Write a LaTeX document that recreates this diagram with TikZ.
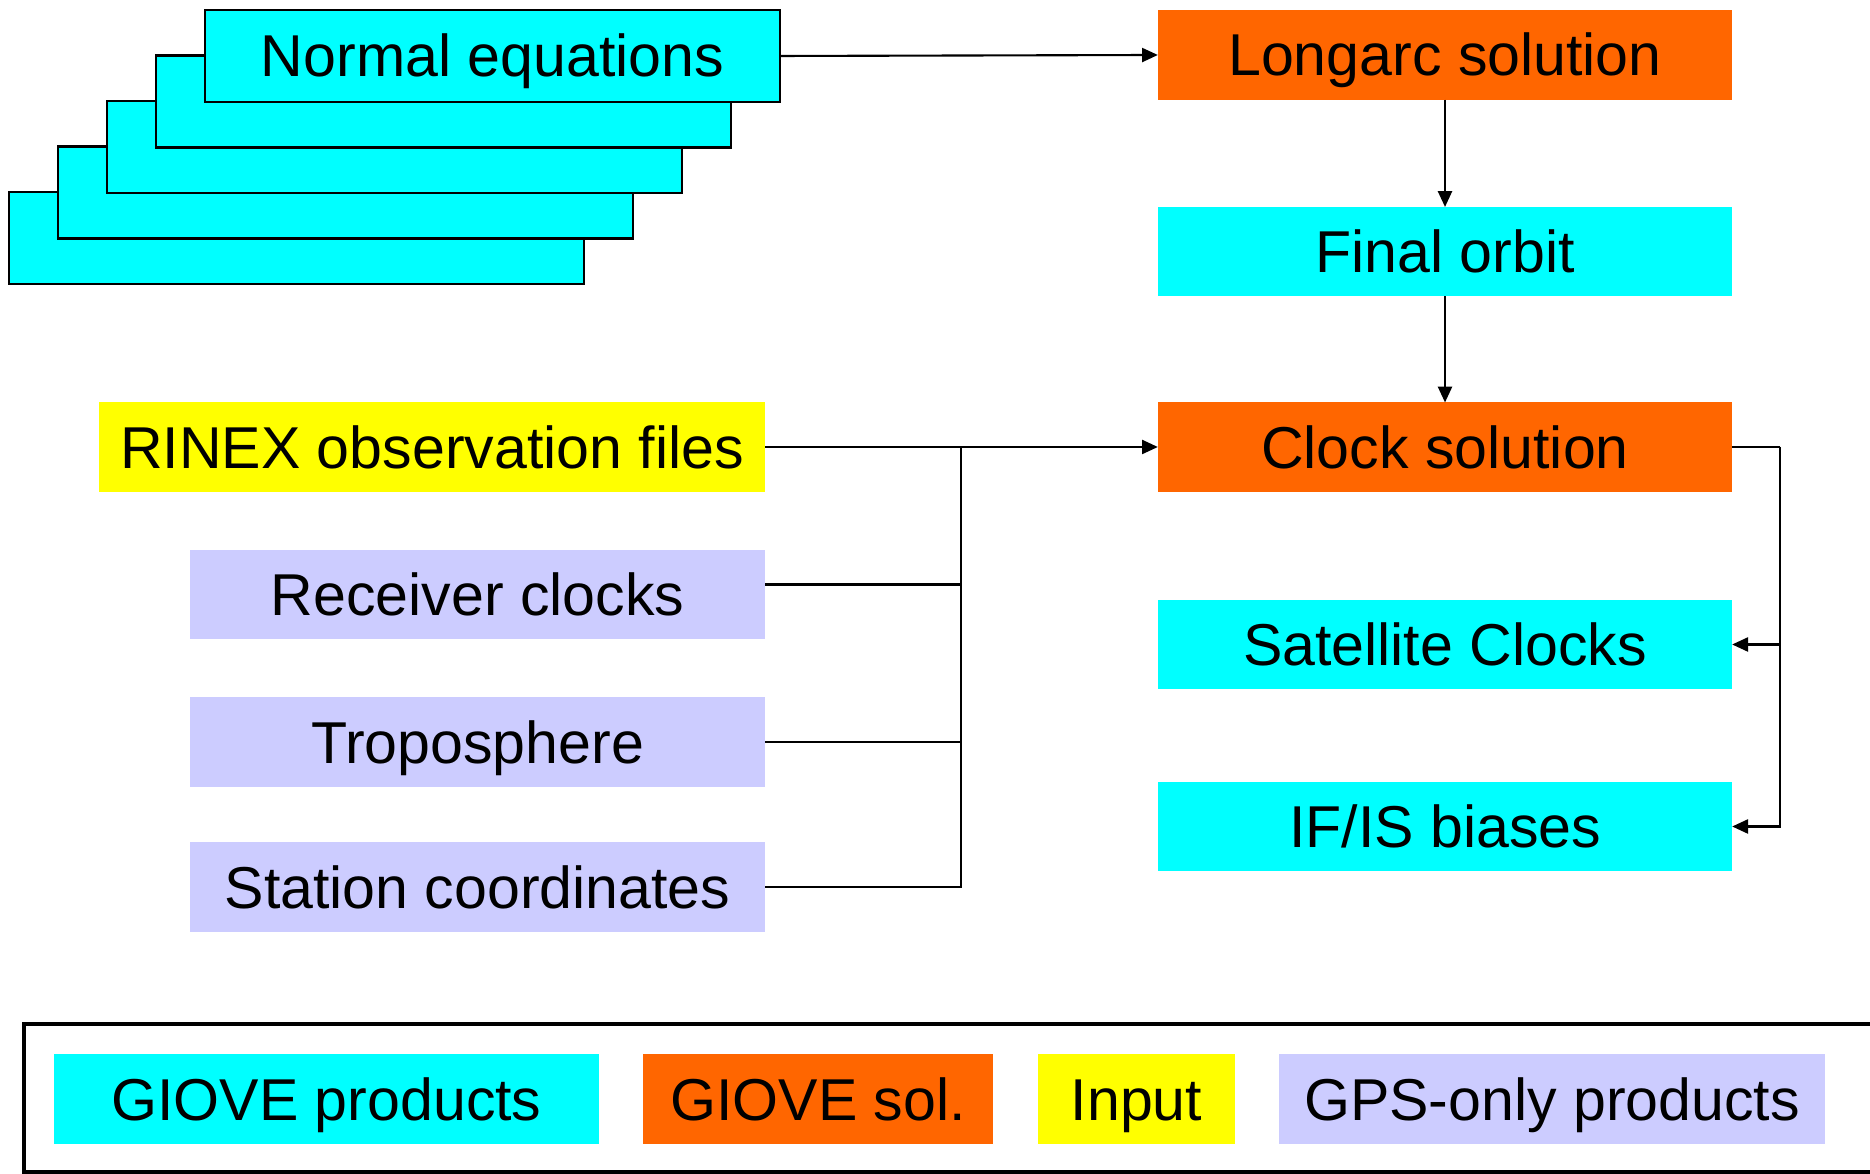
\documentclass[tikz,border=0pt]{standalone}
\usepackage{fontspec}
\setmainfont{Liberation Sans}
\usetikzlibrary{arrows.meta,positioning}
\definecolor{gioveprod}{HTML}{00FFFF}
\definecolor{giovesol}{HTML}{FF6600}
\definecolor{inputcol}{HTML}{FFFF00}
\definecolor{gpsprod}{HTML}{CCCCFF}

\begin{document}
\begin{tikzpicture}[
  x=0.01cm, y=-0.01cm,
  every node/.style={font=\fontsize{16.8}{20}\selectfont},
  box/.style={inner sep=0pt, outer sep=0pt, minimum width=5.74cm, minimum height=0.89cm,
              text height=0.42cm, text depth=0pt},
  prod/.style={box, fill=gioveprod},
  sol/.style={box, fill=giovesol},
  inp/.style={box, fill=inputcol},
  gps/.style={box, fill=gpsprod},
  stack/.style={prod, draw, line width=0.6pt, minimum width=5.75cm, minimum height=0.92cm},
  line/.style={line width=0.6pt},
  arr/.style={line, -{Triangle[length=4.5pt, width=4pt]}},
]
\useasboundingbox (0,0) rectangle (1870,1174);

% Normal equations (stacked)
\foreach \i in {4,3,2,1}
  \node[stack] (ne\i) at ({492.5-49*\i}, {56+45.5*\i}) {};
\node[stack] (ne) at (492.5, 56) {Normal equations};

% Right column
\node[sol]  (lo)   at (1445, 55)    {Longarc solution};
\node[prod] (fo)   at (1445, 251.5) {Final orbit};
\node[sol]  (clk)  at (1445, 447)   {Clock solution};
\node[prod] (sat)  at (1445, 644.5) {Satellite Clocks};
\node[prod] (ifis) at (1445, 826.5) {IF/IS biases};

% Left column
\node[inp, minimum width=6.66cm] (rinex) at (432, 447) {RINEX observation files};
\node[gps, minimum width=5.75cm] (rc)    at (477.5, 594.5) {Receiver clocks};
\node[gps, minimum width=5.75cm] (trop)  at (477.5, 742)   {Troposphere};
\node[gps, minimum width=5.75cm] (stat)  at (477.5, 887)   {Station coordinates};

% Arrows
\coordinate (bus)  at (961, 447);
\coordinate (rbus) at (1780, 447);
\draw[arr] (ne.east) -- (lo.west);
\draw[arr] (lo) -- (fo);
\draw[arr] (fo) -- (clk);
\draw[arr] (rinex.east) -- (clk.west);
\draw[line] ([yshift=0.1cm]rc.east) -| (bus);
\draw[line] (trop.east) -| (bus);
\draw[line] (stat.east) -| (bus);
\draw[line] (clk.east) -- (rbus);
\draw[arr] (rbus) |- (sat.east);
\draw[arr] (rbus) |- (ifis.east);

% Legend
\draw[line width=1.2pt] (24,1024) rectangle (1885,1172);
\node[prod, minimum width=5.45cm, minimum height=0.9cm] (lgprod) at (326.5, 1099) {GIOVE products};
\node[sol,  minimum width=3.5cm,  minimum height=0.9cm] (lgsol)  at (818, 1099)   {GIOVE sol.};
\node[inp,  minimum width=1.97cm, minimum height=0.9cm] (lginp)  at (1136.5, 1099) {Input};
\node[gps,  minimum width=5.46cm, minimum height=0.9cm] (lggps)  at (1552, 1099)  {GPS-only products};
\end{tikzpicture}
\end{document}
